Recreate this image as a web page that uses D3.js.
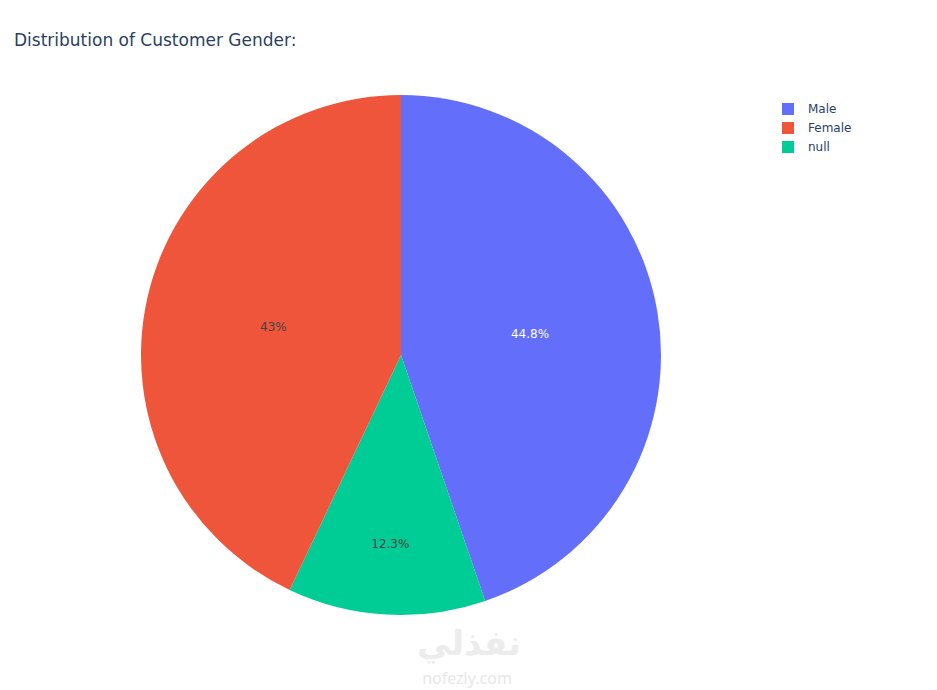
<!DOCTYPE html>
<html><head><meta charset="utf-8">
<script src="https://cdn.jsdelivr.net/npm/d3@7/dist/d3.min.js"></script>
<style>body{margin:0;background:#fff;}svg{display:block;}</style>
</head><body>
<svg id="chart" width="937" height="690"></svg>
<script>
const categories = ["Male", "null", "Female"];
const values = [44.8, 12.3, 43.0];
const legendOrder = ["Male", "Female", "null"];
const colors = {"Male": "#636efa", "Female": "#ef553b", "null": "#00cc96"};
const labelColors = {"Male": "#ffffff", "Female": "#444444", "null": "#444444"};
const titleText = "Distribution of Customer Gender:";

const W = 937, H = 690;
const svg = d3.select("#chart");
const font = "'DejaVu Sans', verdana, arial, sans-serif";

const cx = 401, cy = 355, R = 260;
const data = categories.map((c, i) => ({cat: c, value: values[i]}));
const pie = d3.pie().sort(null).value(d => d.value);
const arcs = pie(data);
const arcGen = d3.arc().innerRadius(0).outerRadius(R);

const g = svg.append("g").attr("transform", `translate(${cx},${cy})`);
g.selectAll("path").data(arcs).join("path")
  .attr("d", arcGen)
  .attr("fill", d => colors[d.data.cat]);

const total = d3.sum(values);
g.selectAll("text.lbl").data(arcs).join("text")
  .attr("class", "lbl")
  .attr("transform", d => {
    const frac = d.data.value / total;
    const r = frac < 0.2 ? R * 0.727 : R * 0.503;
    const a = (d.startAngle + d.endAngle) / 2;
    return `translate(${r * Math.sin(a)},${-r * Math.cos(a)})`;
  })
  .attr("text-anchor", "middle")
  .attr("dy", "0.35em")
  .attr("font-family", font).attr("font-size", 12)
  .attr("fill", d => labelColors[d.data.cat])
  .text(d => d3.format(".3~g")(d.data.value) + "%");

svg.append("text")
  .attr("x", 14).attr("y", 46)
  .attr("font-family", font).attr("font-size", 17)
  .attr("fill", "#2a3f5f")
  .text(titleText);

const leg = svg.append("g").attr("transform", "translate(782,103)");
legendOrder.forEach((c, i) => {
  const row = leg.append("g").attr("transform", `translate(0,${i * 19})`);
  row.append("rect").attr("width", 12).attr("height", 12).attr("fill", colors[c]);
  row.append("text").attr("x", 26).attr("y", 6).attr("dy", "0.35em")
    .attr("font-family", font).attr("font-size", 12).attr("fill", "#2a3f5f").text(c);
});

// watermark
svg.append("text").attr("x", 469).attr("y", 655).attr("text-anchor", "middle")
  .attr("font-family", "'Noto Sans', 'DejaVu Sans', sans-serif").attr("font-size", 34).attr("font-weight", "bold")
  .attr("letter-spacing", 2)
  .attr("fill", "#ececec").text("نفذلي");
svg.append("text").attr("x", 467).attr("y", 684).attr("text-anchor", "middle")
  .attr("font-family", "'Noto Sans', sans-serif").attr("font-size", 16)
  .attr("fill", "#e8e8e8").text("nofezly.com");
</script>
</body></html>
